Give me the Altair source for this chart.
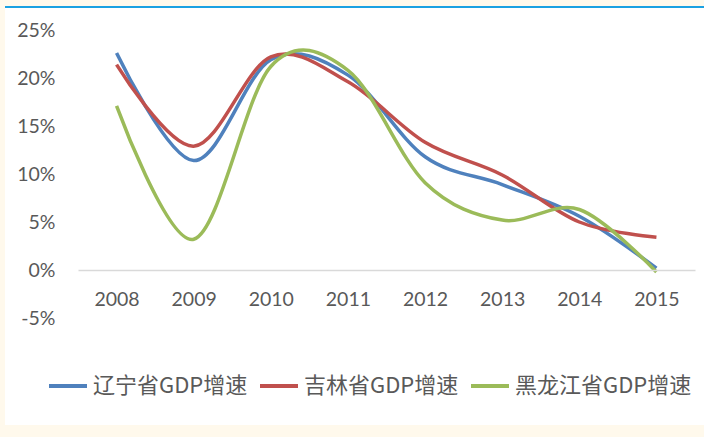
import altair as alt
import pandas as pd

years = ["2008", "2009", "2010", "2011", "2012", "2013", "2014", "2015"]
liaoning = [22.6, 11.4, 21.9, 20.3, 11.8, 8.9, 5.6, 0.2]
jilin = [21.4, 12.9, 22.2, 19.6, 13.3, 9.9, 5.0, 3.4]
heilongjiang = [17.1, 3.2, 21.2, 20.8, 9.1, 5.2, 6.3, -0.2]
series_names = ["辽宁省GDP增速", "吉林省GDP增速", "黑龙江省GDP增速"]
colors = ["#4F81BD", "#C0504D", "#9BBB59"]
y_ticks = [-5, 0, 5, 10, 15, 20, 25]

rows = []
for name, vals in zip(series_names, [liaoning, jilin, heilongjiang]):
    for yr, v in zip(years, vals):
        rows.append({"year": yr, "value": v, "series": name})
df = pd.DataFrame(rows)

W, H = 617, 288
PAD_L, PAD_T = 78, 30

one = pd.DataFrame({"k": [0]})

panel = alt.Chart(one).mark_rect(color="#FFFFFF").encode(
    x=alt.value(5 - PAD_L), x2=alt.value(704 - PAD_L),
    y=alt.value(7 - PAD_T), y2=alt.value(425 - PAD_T),
)
topline = alt.Chart(one).mark_rule(color="#1BA1E2", strokeWidth=2).encode(
    x=alt.value(5 - PAD_L), x2=alt.value(704 - PAD_L), y=alt.value(7 - PAD_T),
)

lines = alt.Chart(df).mark_line(interpolate="cardinal", strokeWidth=3.5).encode(
    x=alt.X("year:N", sort=years, title=None,
            scale=alt.Scale(paddingInner=0, paddingOuter=0),
            axis=alt.Axis(labelAngle=0, ticks=False, domain=True, domainColor="#D9D9D9",
                          domainWidth=1.5, offset=-48, labelPadding=20, zindex=1,
                          labelFont="Lato", labelFontSize=19.5, labelColor="#595959")),
    y=alt.Y("value:Q", title=None,
            scale=alt.Scale(domain=[-5, 25], nice=False, zero=False),
            axis=alt.Axis(values=y_ticks, grid=False, ticks=False, domain=False, zindex=1,
                          labelExpr="datum.value + '%'", labelPadding=23,
                          labelFont="Lato", labelFontSize=19.5, labelColor="#595959")),
    color=alt.Color("series:N", sort=series_names,
                    scale=alt.Scale(domain=series_names, range=colors),
                    legend=alt.Legend(title=None, orient="none", direction="horizontal",
                                      legendX=47 - PAD_L, legendY=365 - PAD_T,
                                      symbolType="stroke", symbolSize=1444,
                                      symbolStrokeWidth=4, labelOffset=4,
                                      columnPadding=4, zindex=1,
                                      labelFont="Noto Sans CJK SC", labelFontSize=22,
                                      labelColor="#595959", labelLimit=300)),
)

chart = alt.layer(panel, topline, lines).properties(
    width=W, height=H,
    autosize=alt.AutoSizeParams(type="none"),
    padding={"left": PAD_L, "top": PAD_T, "right": 704 - PAD_L - W, "bottom": 437 - PAD_T - H},
    background="#FFF9EC",
).configure_view(stroke=None)

chart.save("out.html", embed_options={"renderer": "svg", "actions": False})
